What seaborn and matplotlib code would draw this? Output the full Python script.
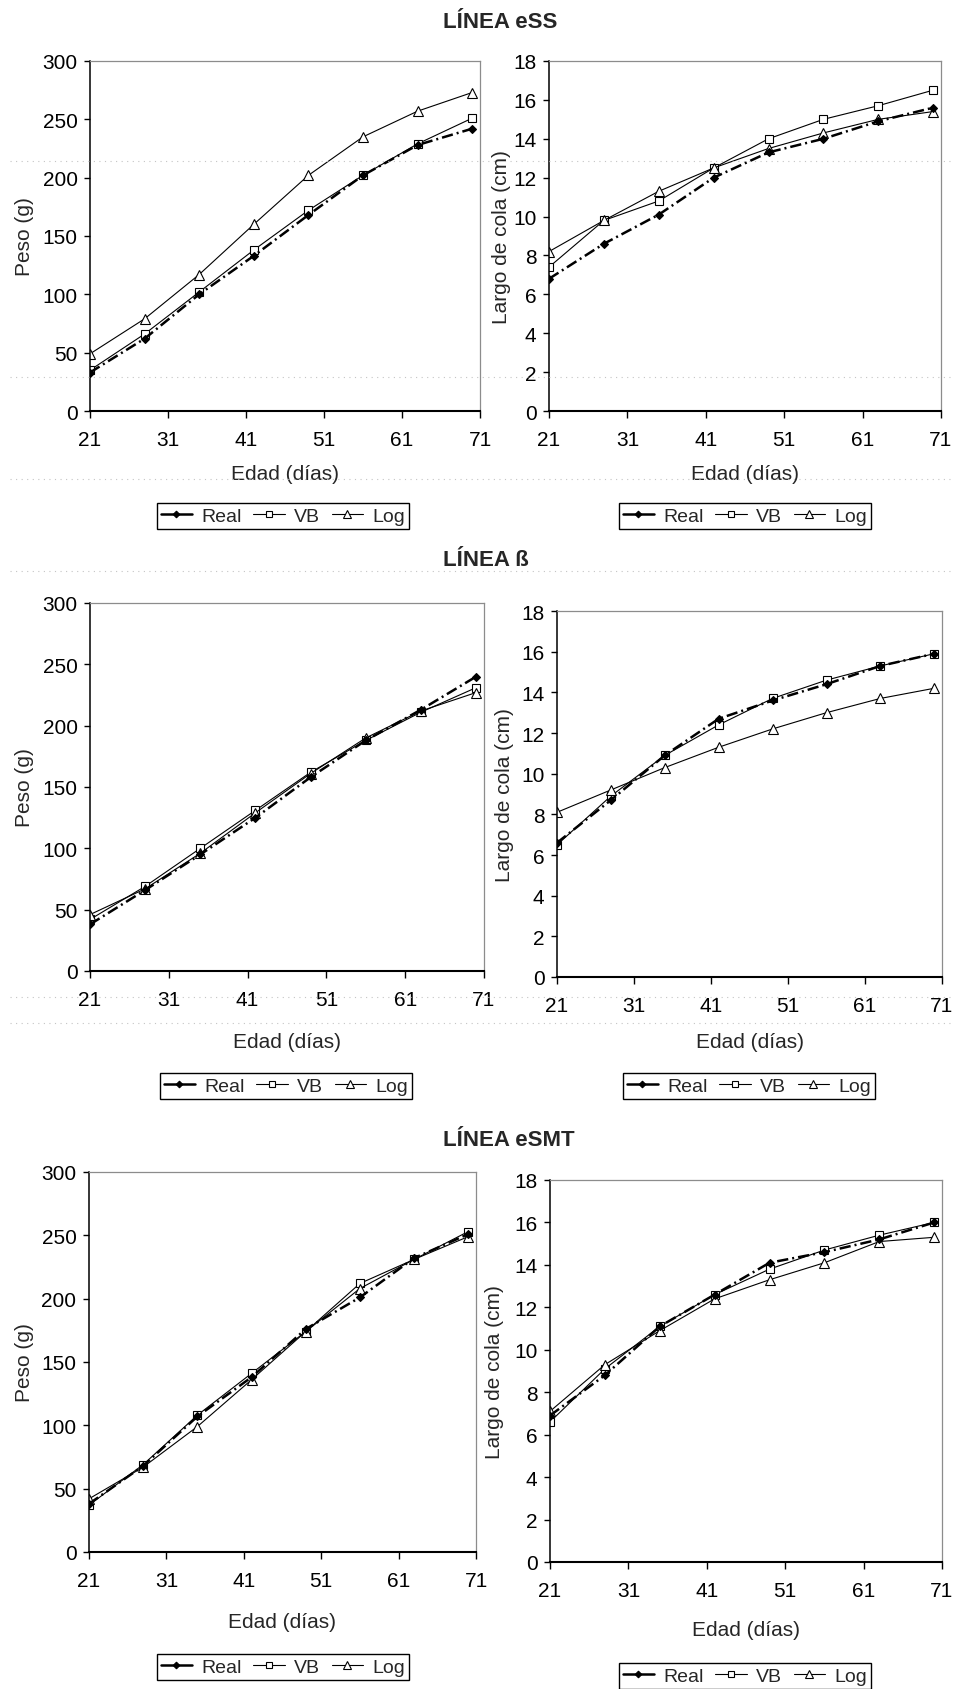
import matplotlib
matplotlib.use("Agg")
import numpy as np
import matplotlib.pyplot as plt
import seaborn as sns
from matplotlib.lines import Line2D

# edad en dias
edad = [21, 28, 35, 42, 49, 56, 63, 70]
xticks = [21, 31, 41, 51, 61, 71]
series = ["Real", "VB", "Log"]

# LINEA eSS
ess_peso_real = [33, 62, 100, 133, 168, 202, 228, 242]
ess_peso_vb = [35, 66, 102, 138, 172, 202, 229, 251]
ess_peso_log = [49, 79, 117, 160, 202, 235, 257, 273]
ess_cola_real = [6.8, 8.6, 10.1, 12.0, 13.3, 14.0, 14.9, 15.6]
ess_cola_vb = [7.4, 9.8, 10.8, 12.5, 14.0, 15.0, 15.7, 16.5]
ess_cola_log = [8.2, 9.8, 11.3, 12.5, 13.5, 14.3, 15.0, 15.4]

# LINEA beta
b_peso_real = [38, 66, 95, 125, 158, 188, 213, 240]
b_peso_vb = [42, 69, 100, 131, 162, 188, 211, 231]
b_peso_log = [46, 67, 96, 129, 161, 190, 212, 227]
b_cola_real = [6.6, 8.7, 10.9, 12.7, 13.6, 14.4, 15.3, 15.9]
b_cola_vb = [6.5, 8.9, 10.9, 12.4, 13.7, 14.6, 15.3, 15.9]
b_cola_log = [8.1, 9.2, 10.3, 11.3, 12.2, 13.0, 13.7, 14.2]

# LINEA eSMT
smt_peso_real = [38, 68, 107, 138, 176, 201, 232, 251]
smt_peso_vb = [37, 69, 108, 141, 174, 212, 231, 253]
smt_peso_log = [42, 67, 99, 136, 174, 208, 231, 249]
smt_cola_real = [6.9, 8.8, 11.1, 12.6, 14.1, 14.6, 15.2, 16.0]
smt_cola_vb = [6.6, 9.1, 11.1, 12.6, 13.8, 14.7, 15.4, 16.0]
smt_cola_log = [7.1, 9.3, 10.9, 12.4, 13.3, 14.1, 15.1, 15.3]

titulos = ["LÍNEA eSS", "LÍNEA ß", "LÍNEA eSMT"]

sns.set_style("white")
plt.rcParams["font.family"] = ["Liberation Sans", "DejaVu Sans"]

W, H = 956, 1690
fig = plt.figure(figsize=(W / 100, H / 100), dpi=100)


def caja(x0, y0, x1, y1):
    return [x0 / W, 1 - y1 / H, (x1 - x0) / W, (y1 - y0) / H]


def panel(ax, real, vb, log, ymax, ystep, ylabel, ylab_x, xlab_y, leg_xy):
    sns.lineplot(x=edad, y=vb, ax=ax, color="black", linewidth=0.8,
                 marker="s", markersize=6, markerfacecolor="white",
                 markeredgecolor="black", markeredgewidth=0.8,
                 errorbar=None, label="VB")
    sns.lineplot(x=edad, y=log, ax=ax, color="black", linewidth=0.8,
                 marker="^", markersize=7, markerfacecolor="white",
                 markeredgecolor="black", markeredgewidth=0.8,
                 errorbar=None, label="Log")
    sns.lineplot(x=edad, y=real, ax=ax, color="black", linewidth=1.8,
                 linestyle=(0, (4.5, 1.6, 0.8, 1.6)),
                 marker="D", markersize=4.5, markerfacecolor="black",
                 markeredgecolor="black", markeredgewidth=0.8,
                 errorbar=None, label="Real")

    ax.set_xlim(21, 71)
    ax.set_xticks(xticks)
    ax.set_ylim(0, ymax)
    ax.set_yticks(np.arange(0, ymax + 0.01, ystep))
    ax.set_xlabel("Edad (días)", fontsize=15)
    ax.set_ylabel(ylabel, fontsize=15)
    ax.yaxis.set_label_coords(ylab_x, 0.5)
    ax.xaxis.set_label_coords(0.5, xlab_y)

    ax.tick_params(axis="y", left=True, direction="out", length=4,
                   width=1, pad=5, labelsize=15, colors="black")
    ax.tick_params(axis="x", bottom=True, direction="out", length=5,
                   width=1, pad=9, labelsize=15, colors="black")
    ax.spines["left"].set_color("black")
    ax.spines["left"].set_linewidth(1.1)
    ax.spines["bottom"].set_color("black")
    ax.spines["bottom"].set_linewidth(1.5)
    for s in ["top", "right"]:
        ax.spines[s].set_color("#8c8c8c")
        ax.spines[s].set_linewidth(0.9)

    h, l = ax.get_legend_handles_labels()
    d = dict(zip(l, h))
    if ax.get_legend() is not None:
        ax.get_legend().remove()
    leg = ax.legend([d[s] for s in series], series, loc="center",
                    bbox_to_anchor=(leg_xy[0] / W, 1 - leg_xy[1] / H),
                    bbox_transform=fig.transFigure, ncol=3, frameon=True,
                    fancybox=False, edgecolor="black", framealpha=1,
                    fontsize=14, handlelength=1.6, handletextpad=0.5,
                    columnspacing=0.6, borderpad=0.2, markerscale=0.75)
    leg.get_frame().set_linewidth(1.0)
    # en la leyenda la serie Real se ve como linea continua
    leg.get_lines()[0].set_linestyle("-")


ax1 = fig.add_axes(caja(90, 62, 480, 412))
panel(ax1, ess_peso_real, ess_peso_vb, ess_peso_log, 300, 50, "Peso (g)",
      -0.144, -0.151, (283, 517))
ax2 = fig.add_axes(caja(549, 62, 941, 412))
panel(ax2, ess_cola_real, ess_cola_vb, ess_cola_log, 18, 2, "Largo de cola (cm)",
      -0.097, -0.151, (745, 517))

ax3 = fig.add_axes(caja(90, 604, 484, 972))
panel(ax3, b_peso_real, b_peso_vb, b_peso_log, 300, 50, "Peso (g)",
      -0.142, -0.166, (286, 1087))
ax4 = fig.add_axes(caja(557, 612, 942, 978))
panel(ax4, b_cola_real, b_cola_vb, b_cola_log, 18, 2, "Largo de cola (cm)",
      -0.112, -0.150, (749, 1087))

ax5 = fig.add_axes(caja(89, 1173, 476, 1553))
panel(ax5, smt_peso_real, smt_peso_vb, smt_peso_log, 300, 50, "Peso (g)",
      -0.142, -0.158, (283, 1668))
ax6 = fig.add_axes(caja(550, 1181, 942, 1563))
panel(ax6, smt_cola_real, smt_cola_vb, smt_cola_log, 18, 2, "Largo de cola (cm)",
      -0.117, -0.152, (745, 1677))

for t, y in zip(titulos, [22, 561, 1140]):
    fig.text(443 / W, 1 - y / H, t, ha="left", va="center",
             fontsize=16, fontweight="bold")

# lineas punteadas de fondo (celdas de la hoja)
for y in [162, 378, 480, 572, 998, 1024]:
    fig.add_artist(Line2D([0.01, 0.995], [1 - y / H, 1 - y / H],
                          transform=fig.transFigure, color="#c4c4c4",
                          linewidth=0.8, linestyle=(0, (1, 4)), zorder=0.5))

fig.savefig("out.png", dpi=100)
